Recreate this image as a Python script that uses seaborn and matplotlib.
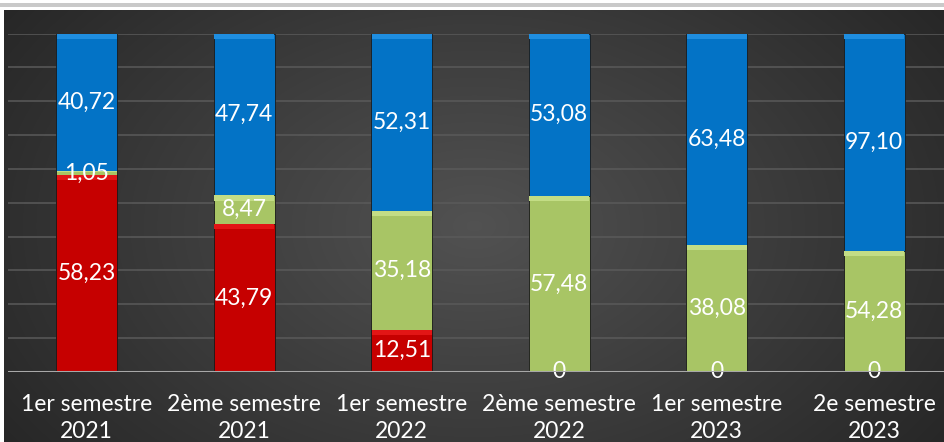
import numpy as np
import pandas as pd
import matplotlib
matplotlib.use("Agg")
import matplotlib.pyplot as plt
import seaborn as sns
from matplotlib.patches import Rectangle

categories = ["1er semestre\n2021", "2ème semestre\n2021", "1er semestre\n2022",
              "2ème semestre\n2022", "1er semestre\n2023", "2e semestre\n2023"]
red_vals = [58.23, 43.79, 12.51, 0, 0, 0]
green_vals = [1.05, 8.47, 35.18, 57.48, 38.08, 54.28]
blue_vals = [40.72, 47.74, 52.31, 53.08, 63.48, 97.10]

sns.set_theme(style="dark")
FONT = ["Lato", "DejaVu Sans"]
plt.rcParams["font.family"] = FONT

W, H = 945, 442
fig = plt.figure(figsize=(W / 100, H / 100), dpi=100)
fig.patch.set_facecolor("white")

# top shadow line
fig.patches.append(Rectangle((0, (H - 7) / H), 1, 4 / H, transform=fig.transFigure,
                             facecolor="#c9c9c9", edgecolor="none", zorder=0))

# dark radial background
bg = fig.add_axes([4 / W, 0, 1 - 4 / W, (H - 10) / H])
yy, xx = np.mgrid[0:1:300j, 0:1:600j]
r = np.sqrt(((xx - 0.5) / 0.62) ** 2 + ((yy - 0.5) / 0.9) ** 2)
img = np.clip(0.32 - 0.17 * r, 0.15, 0.32)
bg.imshow(np.dstack([img, img, img]), aspect="auto", extent=[0, 1, 0, 1],
          interpolation="bilinear")
bg.set_axis_off()

base_y = (H - 372) / H
top_y = (H - 33.5) / H
ax = fig.add_axes([8 / W, base_y, 1.0, top_y - base_y])
ax.set_facecolor("none")

df = pd.DataFrame({"cat": categories, "red": red_vals, "green": green_vals, "blue": blue_vals})
tot = df["red"] + df["green"] + df["blue"]
df["red_p"] = df["red"] / tot * 100
df["green_p"] = df["green"] / tot * 100
df["blue_p"] = df["blue"] / tot * 100
df["top_rg"] = df["red_p"] + df["green_p"]
df["top_all"] = df["top_rg"] + df["blue_p"]

BW = 0.39
colors = {"blue": "#0373C6", "green": "#A8C565", "red": "#C60000"}
light = {"blue": "#1F8EE0", "green": "#C3DD85", "red": "#E21515"}

sns.barplot(data=df, x="cat", y="top_all", color=colors["blue"], saturation=1,
            width=BW, ax=ax, edgecolor="#1a1a1a", linewidth=0.6, zorder=2)
sns.barplot(data=df, x="cat", y="top_rg", color=colors["green"], saturation=1,
            width=BW, ax=ax, edgecolor="#1a1a1a", linewidth=0.6, zorder=3)
sns.barplot(data=df, x="cat", y="red_p", color=colors["red"], saturation=1,
            width=BW, ax=ax, edgecolor="#1a1a1a", linewidth=0.6, zorder=4)

# subtle top bevel
xs = np.arange(len(df))
layers = [("red", "red_p", np.zeros(len(df))), ("green", "green_p", df["red_p"].values),
          ("blue", "blue_p", df["top_rg"].values)]
for name, col, bottoms in layers:
    p = df[col].values
    strip = np.minimum(1.6, p * 0.3)
    ax.bar(xs, strip, bottom=bottoms + p - strip, width=BW * 0.97, color=light[name],
           linewidth=0, zorder=5)

# value labels
def fmt(v):
    return "0" if v == 0 else f"{v:.2f}".replace(".", ",")

for name, col, bottoms in layers:
    p = df[col].values
    v = df[name].values
    for i in range(len(df)):
        y = bottoms[i] + p[i] / 2
        ax.text(i, y, fmt(v[i]), ha="center", va="center", color="white",
                fontsize=16.5, zorder=6, family=FONT)

ax.set_xlim(-0.5, len(df) - 0.5)
ax.set_ylim(0, 100)
ax.set_yticks(np.arange(0, 101, 10))
ax.yaxis.grid(True, color="#5a5a5a", linewidth=1.1, zorder=0)
ax.xaxis.grid(False)
ax.set_axisbelow(True)
for s in ax.spines.values():
    s.set_visible(False)
ax.axhline(0, color="#a8a8a8", linewidth=2.2, zorder=7)
ax.tick_params(axis="y", left=False, labelleft=False)
ax.tick_params(axis="x", bottom=False, pad=10, labelsize=16.5, colors="white")
for t in ax.get_xticklabels():
    t.set_linespacing(1.33)
    t.set_family(FONT)
ax.set_xlabel("")
ax.set_ylabel("")

fig.savefig("out.png", dpi=100, facecolor=fig.get_facecolor())
